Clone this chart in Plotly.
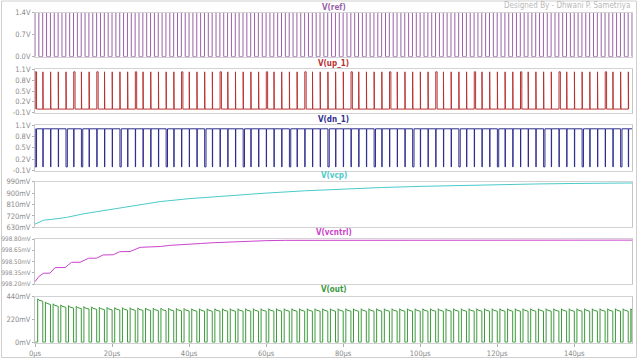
import plotly.graph_objects as go

# ---------------- data ----------------
T_END_US = 155.0
PERIOD_US = 2.0
N_CYCLES = 78

REF_LEVELS_V = [0.0, 1.4]          # low, high
REF_DUTY = 0.5

UP_LEVELS_V = [0.0, 1.03]
UP_PHASE_US = 0.05
UP_WIDTHS_US = [0.07, 0.35]        # normal, wide
UP_WIDE_IDX = [0, 5, 8, 13, 19, 24, 30, 35, 41, 46, 52, 57, 63, 68, 74]

DN_LEVELS_V = [0.0, 1.0]
DN_PHASE_US = 0.05
DN_WIDTHS_US = [0.07, 0.35]
DN_WIDE_IDX = [0, 4, 6, 11, 17, 22, 27, 33, 38, 44, 49, 55, 60, 66, 71, 76]

VCP_T_US = [0, 1, 2.2, 4.7, 8.2, 12.5, 16.9, 21.2, 25.5, 29.9, 32.5, 40, 50, 60,
            70, 80, 90, 100, 110, 120, 130, 140, 155]
VCP_MV = [655, 672, 686, 694, 708, 736, 758, 778, 797, 820, 833, 856, 880, 900,
          918, 932, 944, 953, 961, 967, 972, 976, 980]

VCNTRL_T_US = [0, 1.0, 2.2, 3.9, 5.2, 7.8, 9.5, 11.7, 13.9, 16.0, 17.7, 20.3, 22.0,
               24.7, 27.3, 30.7, 32.5, 35, 37.5, 40, 43, 46, 50, 55, 60, 65, 155]
VCNTRL_MV = [998.23, 998.30, 998.343, 998.345, 998.418, 998.42, 998.489, 998.49,
             998.543, 998.545, 998.587, 998.59, 998.631, 998.633, 998.689, 998.692,
             998.70, 998.715, 998.72, 998.735, 998.74, 998.75, 998.76, 998.77,
             998.778, 998.782, 998.785]

OUT_DELAY_US = 0.7
OUT_DUTY = 0.66
OUT_LOW_MV = 5
OUT_PEAK_MV = [420, 390, 372, 362, 355, 350, 346, 343, 340, 338, 336, 335, 334,
               333, 332, 331, 330, 329, 328, 327]
OUT_PEAK_TAIL_MV = 325
OUT_DROOP_MV = 24

Y_TICKS = [
    ([0.0, 0.7, 1.4], ["0.0V", "0.7V", "1.4V"]),
    ([-0.1, 0.2, 0.5, 0.8, 1.1], ["-0.1V", "0.2V", "0.5V", "0.8V", "1.1V"]),
    ([-0.1, 0.2, 0.5, 0.8, 1.1], ["-0.1V", "0.2V", "0.5V", "0.8V", "1.1V"]),
    ([630, 720, 810, 900, 990], ["630mV", "720mV", "810mV", "900mV", "990mV"]),
    ([998.20, 998.35, 998.50, 998.65, 998.80],
     ["998.20mV", "998.35mV", "998.50mV", "998.65mV", "998.80mV"]),
    ([0, 220, 440], ["0mV", "220mV", "440mV"]),
]
X_TICKS_US = [0, 20, 40, 60, 80, 100, 120, 140]
X_TICK_TEXT = ["0µs", "20µs", "40µs", "60µs", "80µs", "100µs", "120µs", "140µs"]

TITLES = ["V(ref)", "V(up_1)", "V(dn_1)", "V(vcp)", "V(vcntrl)", "V(out)"]
COLORS = ["#9a62a8", "#b83232", "#2e2e8e", "#4ccaca", "#cc44cc", "#3c9a3c"]
WATERMARK = "Designed By - Dhwani P. Sametriya"

# ---------------- layout geometry (pixels) ----------------
W, H = 638, 359
ML, MR = 35, 6
PANEL_PX = [(12.5, 56.7), (69.3, 112.7), (125.0, 170.7),
            (181.7, 227.3), (239.0, 284.0), (296.7, 342.7)]
TITLE_Y_PX = [8, 63.5, 119.5, 176, 232.5, 289.5]
TICK_SIZES = [7.5, 7.5, 7.5, 7.5, 6.3, 7.5]


def pulse_train(start, width, low, high, n, period, t_end):
    xs, ys = [], []
    for k in range(n):
        t0 = start + k * period
        if t0 > t_end:
            break
        t1 = min(t0 + width(k), t_end)
        xs += [t0, t0, t1, t1]
        ys += [low, high(k), high(k), low]
    return xs, ys


def inverse_pulse_train(start, width, low, high, n, period, t_end):
    xs, ys = [0.0], [high]
    for k in range(n):
        t0 = start + k * period
        if t0 > t_end:
            break
        t1 = min(t0 + width(k), t_end)
        xs += [t0, t0, t1, t1]
        ys += [high, low, low, high]
    xs.append(t_end)
    ys.append(high)
    return xs, ys


ref_x, ref_y = pulse_train(0.0, lambda k: PERIOD_US * REF_DUTY, REF_LEVELS_V[0],
                           lambda k: REF_LEVELS_V[1], N_CYCLES, PERIOD_US, T_END_US)
up_x, up_y = pulse_train(UP_PHASE_US,
                         lambda k: UP_WIDTHS_US[1] if k in UP_WIDE_IDX else UP_WIDTHS_US[0],
                         UP_LEVELS_V[0], lambda k: UP_LEVELS_V[1], N_CYCLES, PERIOD_US, T_END_US)
dn_x, dn_y = inverse_pulse_train(DN_PHASE_US,
                                 lambda k: DN_WIDTHS_US[1] if k in DN_WIDE_IDX else DN_WIDTHS_US[0],
                                 DN_LEVELS_V[0], DN_LEVELS_V[1], N_CYCLES, PERIOD_US, T_END_US)

out_x, out_y = [0.0], [OUT_LOW_MV]
for k in range(N_CYCLES):
    t0 = OUT_DELAY_US + k * PERIOD_US
    if t0 > T_END_US:
        break
    pk = OUT_PEAK_MV[k] if k < len(OUT_PEAK_MV) else OUT_PEAK_TAIL_MV
    t1 = min(t0 + PERIOD_US * OUT_DUTY, T_END_US)
    out_x += [t0, t0, t0 + 0.3, t1, t1]
    out_y += [OUT_LOW_MV, pk, pk - OUT_DROOP_MV * 0.55, pk - OUT_DROOP_MV, OUT_LOW_MV]
out_x.append(T_END_US)
out_y.append(OUT_LOW_MV)

series = [(ref_x, ref_y), (up_x, up_y), (dn_x, dn_y),
          (VCP_T_US, VCP_MV), (VCNTRL_T_US, VCNTRL_MV), (out_x, out_y)]

# ---------------- figure ----------------
fig = go.Figure()
FONT = "Liberation Sans Narrow, DejaVu Sans Condensed, Arial Narrow, sans-serif"
layout = dict(
    width=W, height=H,
    margin=dict(l=ML, r=MR, t=0, b=0, pad=0),
    paper_bgcolor="white", plot_bgcolor="white",
    showlegend=False,
    font=dict(family=FONT, size=8, color="#8a8a8a"),
)

for i, ((xs, ys), (tv, tt), (top, bot)) in enumerate(zip(series, Y_TICKS, PANEL_PX)):
    n = i + 1
    xa = "x" if n == 1 else f"x{n}"
    ya = "y" if n == 1 else f"y{n}"
    fig.add_trace(go.Scatter(x=xs, y=ys, mode="lines", xaxis=xa, yaxis=ya,
                             line=dict(color=COLORS[i], width=1), hoverinfo="skip"))
    dom = [1 - bot / H, 1 - top / H]
    last = n == 6
    layout[f"xaxis{'' if n == 1 else n}"] = dict(
        domain=[0, 1], anchor=ya, range=[0, T_END_US],
        showgrid=False, zeroline=False,
        showline=True, linecolor="#d2d2d2", linewidth=1, mirror=True,
        tickvals=X_TICKS_US, ticktext=X_TICK_TEXT,
        showticklabels=last, ticks="outside" if last else "",
        ticklen=3, tickcolor="#b0b0b0",
        tickfont=dict(family=FONT, size=7.5, color="#8a8a8a"),
        automargin=False,
        **({} if n == 1 else {"matches": "x"}),
    )
    layout[f"yaxis{'' if n == 1 else n}"] = dict(
        domain=dom, anchor=xa, range=[tv[0], tv[-1]],
        tickvals=tv, ticktext=tt,
        showgrid=False, zeroline=False,
        showline=True, linecolor="#c4c4c4", linewidth=1, mirror=True,
        ticks="outside", ticklen=2, tickcolor="#b0b0b0",
        tickfont=dict(family=FONT, size=TICK_SIZES[i], color="#8a8a8a"),
        automargin=False,
    )

fig.update_layout(**layout)

PW = W - ML - MR
for i, title in enumerate(TITLES):
    fig.add_annotation(
        x=0.5, y=1 - TITLE_Y_PX[i] / H, xref="paper", yref="paper",
        text=f"<b>{title}</b>", showarrow=False,
        font=dict(family=FONT, size=8, color=COLORS[i]),
        xanchor="center", yanchor="middle",
    )

fig.add_annotation(
    x=(632 - ML) / PW, y=1 - 5.5 / H, xref="paper", yref="paper",
    text=WATERMARK, showarrow=False, xanchor="right", yanchor="middle",
    font=dict(family=FONT, size=8, color="#b8b8b8"),
)

fig.add_shape(type="rect", xref="paper", yref="paper",
              x0=(1.5 - ML) / PW, x1=(636.5 - ML) / PW,
              y0=1 - 357.5 / H, y1=1 - 1.0 / H,
              line=dict(color="#cfcfcf", width=1), layer="below")

fig.write_html("out.html",
               config={"displayModeBar": False},
               post_script="document.body.style.margin='0';document.body.style.overflow='hidden';")
